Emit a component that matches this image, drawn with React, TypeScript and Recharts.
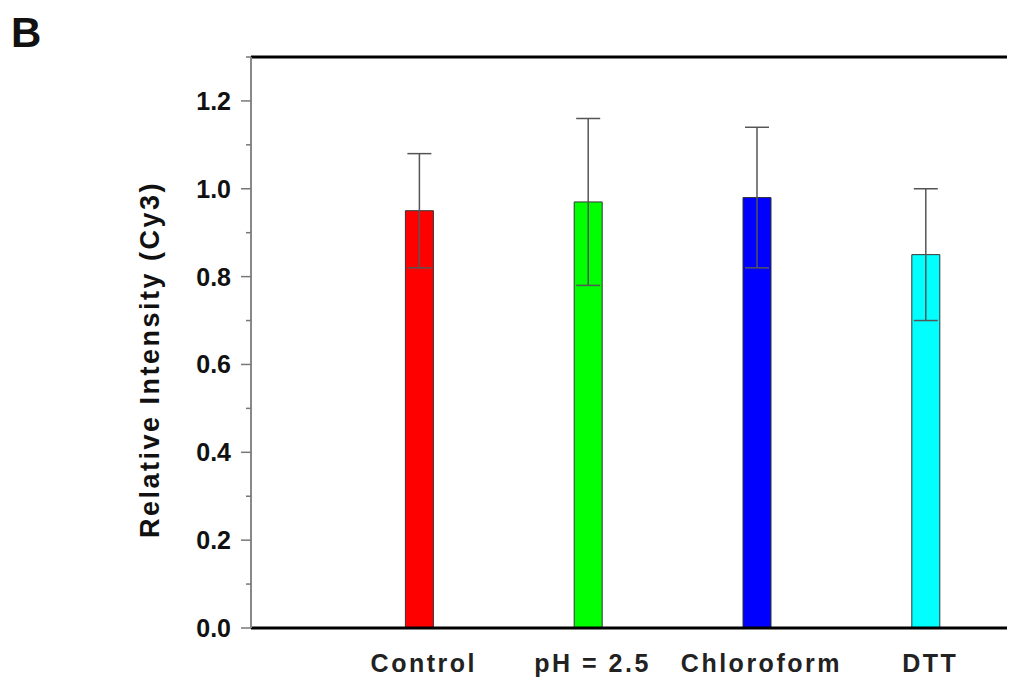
import {
  BarChart,
  Bar,
  Cell,
  XAxis,
  YAxis,
  ErrorBar,
  ReferenceLine,
} from "recharts";

const categories = ["Control", "pH = 2.5", "Chloroform", "DTT"];
const positions = [1, 2, 3, 4];
const means = [0.95, 0.97, 0.98, 0.85];
const errors = [0.13, 0.19, 0.16, 0.15];
const colors = ["#ff0000", "#00ff00", "#0000ff", "#00ffff"];

const yTicks = [0, 0.1, 0.2, 0.3, 0.4, 0.5, 0.6, 0.7, 0.8, 0.9, 1.0, 1.1, 1.2, 1.3];
const yLabels = [0, 0.2, 0.4, 0.6, 0.8, 1.0, 1.2];

const data = positions.map((x, i) => ({
  x,
  name: categories[i],
  value: means[i],
  err: errors[i],
}));

const font = "'Liberation Sans', Arial, sans-serif";

function YTick(props: any) {
  const { x, y, payload } = props;
  const v = payload.value;
  const major = yLabels.some((t) => Math.abs(t - v) < 1e-6);
  return (
    <g>
      <line x1={x - (major ? 10 : 5)} y1={y} x2={x} y2={y} stroke="#777" strokeWidth={1.5} />
      {major && (
        <text
          x={x - 20}
          y={y}
          dy={9}
          textAnchor="end"
          fontSize={25}
          fontWeight="bold"
          fill="#111"
          fontFamily={font}
        >
          {v.toFixed(1)}
        </text>
      )}
    </g>
  );
}

function XTick(props: any) {
  const { x, y, payload } = props;
  const idx = positions.indexOf(payload.value);
  return (
    <text
      x={x + 4}
      y={y + 42}
      textAnchor="middle"
      fontSize={25}
      fontWeight="bold"
      fill="#222"
      letterSpacing={2.5}
      fontFamily={font}
    >
      {categories[idx]}
    </text>
  );
}

function YLabel(props: any) {
  const { viewBox } = props;
  const cx = 142;
  const cy = viewBox.y + viewBox.height / 2 + 17;
  return (
    <text
      x={cx}
      y={cy}
      transform={`rotate(-90, ${cx}, ${cy})`}
      textAnchor="middle"
      dominantBaseline="central"
      fontSize={27}
      fontWeight="bold"
      fill="#111"
      letterSpacing={2.5}
      fontFamily={font}
    >
      Relative Intensity (Cy3)
    </text>
  );
}

export default function App() {
  return (
    <div style={{ position: "relative", width: 1007, height: 669, overflow: "hidden" }}>
      <div
        style={{
          position: "absolute",
          left: 3,
          top: 1,
          fontFamily: font,
          fontWeight: "bold",
          fontSize: 42,
          color: "#111",
        }}
      >
        B
      </div>
      <BarChart
        width={1097}
        height={669}
        data={data}
        margin={{ top: 49, right: 10, bottom: 0, left: 0 }}
      >
        <XAxis
          type="number"
          dataKey="x"
          domain={[0, 5]}
          ticks={positions}
          tick={<XTick />}
          tickLine={false}
          tickSize={0}
          height={49}
          axisLine={{ stroke: "#000", strokeWidth: 3 }}
        />
        <YAxis
          domain={[0, 1.3]}
          ticks={yTicks}
          interval={0}
          width={243}
          tick={<YTick />}
          tickLine={false}
          tickSize={0}
          tickMargin={0}
          axisLine={{ stroke: "#888", strokeWidth: 2 }}
          label={<YLabel />}
        />
        <ReferenceLine y={1.3} stroke="#000" strokeWidth={3} />
        <Bar
          dataKey="value"
          barSize={28}
          stroke="#333"
          strokeWidth={1}
          isAnimationActive={false}
        >
          {data.map((d, i) => (
            <Cell key={d.name} fill={colors[i]} />
          ))}
          <ErrorBar dataKey="err" width={12} stroke="#555" strokeWidth={1.5} />
        </Bar>
      </BarChart>
    </div>
  );
}
